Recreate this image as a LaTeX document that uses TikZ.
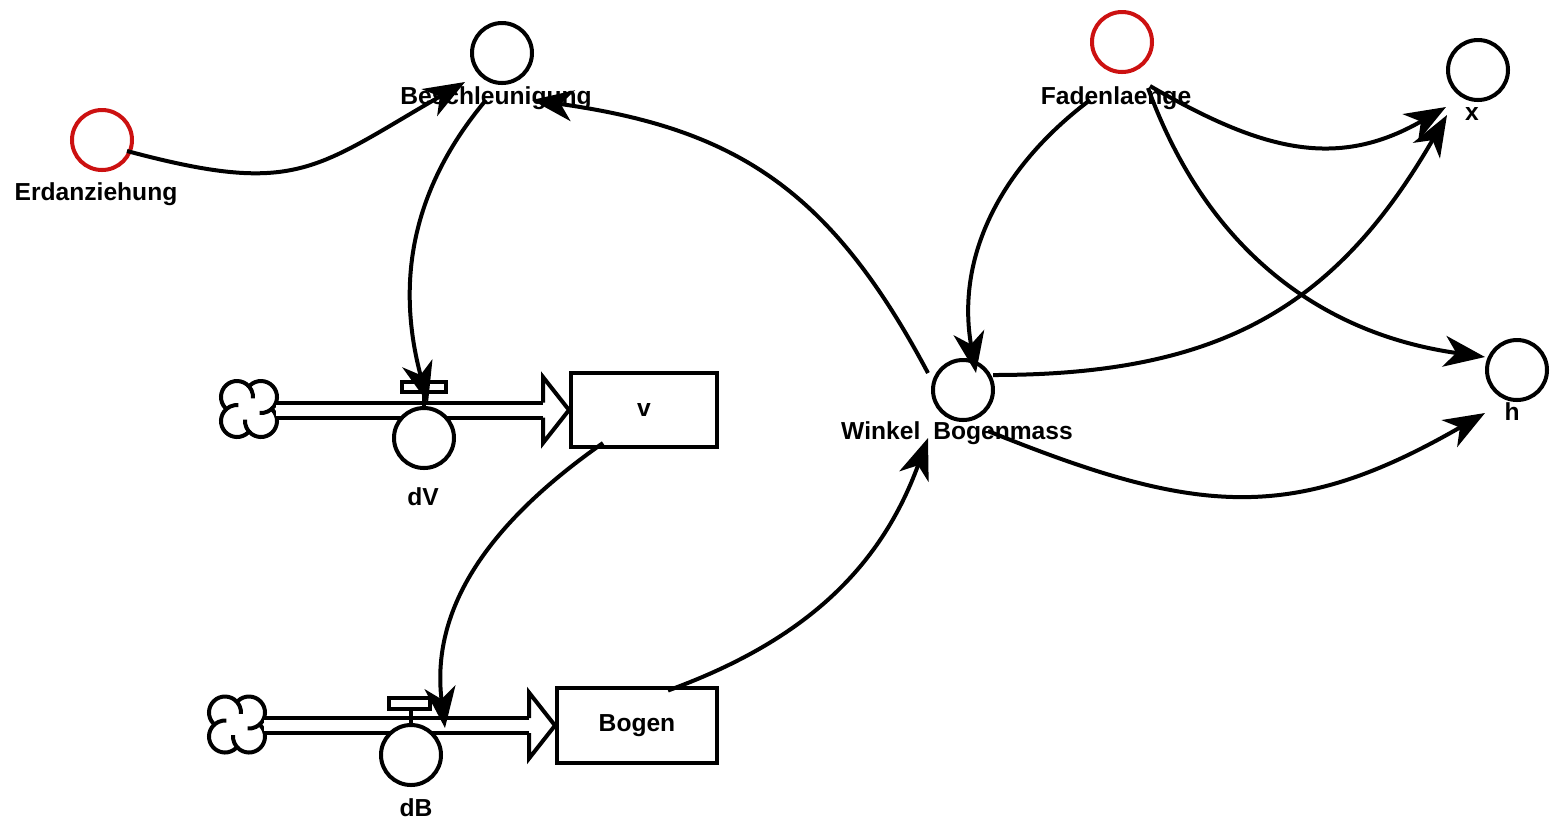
\documentclass[tikz,border=0pt]{standalone}
\usepackage{fontspec}
\setmainfont{Liberation Sans}
\usetikzlibrary{arrows.meta,calc}
\definecolor{cred}{RGB}{204,17,17}
\tikzset{
  srccloud/.pic={
    \begin{scope}[x=0.1mm,y=0.1mm,line width=0.4mm]
      \foreach \a in {45,135,225,315}{
        \draw (\a:16.97) ++(\a+100:16) arc[start angle=\a+100,end angle=\a-140,radius=16];
      }
    \end{scope}
  }
}
\begin{document}
\begin{tikzpicture}[x=0.1mm,y=-0.1mm,
  aux/.style={circle,draw,line width=0.4mm,minimum size=6mm,inner sep=0pt,fill=white},
  constc/.style={aux,draw=cred},
  stock/.style={draw,line width=0.4mm,rectangle,inner sep=0pt,font=\bfseries\fontsize{7}{8}\selectfont},
  lbl/.style={font=\bfseries\fontsize{7}{8}\selectfont,anchor=base,inner sep=0pt},
  link/.style={line width=0.4mm,-{Stealth[length=4.1mm,width=3.1mm,inset=1.2mm]}},
  pipe/.style={double distance=1.1mm,line width=0.4mm},
  flowtip/.style={line width=0.4mm,line join=miter},
  valvebar/.style={line width=0.4mm,fill=white}
]
\useasboundingbox (0,0) rectangle (1551,821);

% stocks
\node[stock,minimum width=14.6mm,minimum height=7.4mm] (v) at (644,410) {v};
\node[stock,minimum width=16mm,minimum height=7.5mm] (bogen) at (637,725.5) {Bogen};

% clouds
\coordinate (c1) at (249,409);
\coordinate (c2) at (237,724.5);
\pic at (c1) {srccloud};
\pic at (c2) {srccloud};

% pipes
\draw[pipe] ($(c1)+(27,1)$) -- ($(v.west)+(-26,0)$);
\draw[flowtip] ($(v.west)+(-26,-7.5)$) -- ++(0,-25.5) -- (v.west) -- ++(-26,33) -- ++(0,-25.5);
\draw[pipe] ($(c2)+(27,1)$) -- ($(bogen.west)+(-26,0)$);
\draw[flowtip] ($(bogen.west)+(-26,-7.5)$) -- ++(0,-25.5) -- (bogen.west) -- ++(-26,33) -- ++(0,-25.5);

% valves
\node[aux] (dv) at (424,438) {};
\draw[valvebar] ($(dv)+(-22,-56)$) rectangle ($(dv)+(22,-46)$);
\draw[line width=0.4mm] ($(dv)+(0,-46)$) -- (dv.north);
\node[aux] (db) at (411,755) {};
\draw[valvebar] ($(db)+(-22,-57)$) rectangle ($(db)+(19,-46)$);
\draw[line width=0.4mm] ($(db)+(0,-46)$) -- (db.north);

% variables
\node[constc] (erd) at (102,140) {};
\node[aux] (besch) at (502,53) {};
\node[constc] (faden) at (1122,42) {};
\node[aux] (x) at (1478,70) {};
\node[aux] (h) at (1517,370) {};
\node[aux] (win) at (963,390) {};

% labels
\node[lbl] (erdL) at (96,200) {Erdanziehung};
\node[lbl] (beschL) at (496,104) {Beschleunigung};
\node[lbl] (fadenL) at (1116,104) {Fadenlaenge};
\node[lbl] (xL) at (1472,120) {x};
\node[lbl] (hL) at (1512,420) {h};
\node[lbl] (winL) at (957,439) {Winkel\hspace{1.3mm}Bogenmass};
\node[lbl] (dvL) at (423,505) {dV};
\node[lbl] (dbL) at (416,816) {dB};

% connectors
\draw[link] ($(erd)+(25,11)$) to[out=-15,in=210,looseness=1.3] ($(besch)+(-37,29)$);
\draw[link] ($(besch)+(-16,47)$) to[out=230,in=105] ($(dv)+(4,-35)$);
\draw[link] ($(win)+(-35,-17)$) to[out=118,in=-8,looseness=1.1] ($(besch)+(30,47)$);
\draw[link] ($(v)+(-41,33)$) to[out=215,in=97] ($(db)+(34,-27)$);
\draw[link] ($(bogen)+(31,-35)$) to[out=20,in=250] ($(win)+(-35,48)$);
\draw[link] ($(faden)+(-32,58)$) to[out=217,in=100] ($(win)+(13,-17)$);
\draw[link] ($(faden)+(28,44)$) to[out=-30,in=210,looseness=1.1] ($(x)+(-32,37)$);
\draw[link] ($(faden)+(26,46)$) to[out=-70,in=172] ($(h)+(-32,-13)$);
\draw[link] ($(win)+(30,-15)$) to[out=0,in=240,looseness=1.1] ($(x)+(-31,45)$);
\draw[link] ($(win)+(25,41)$) to[out=-22,in=210,looseness=1.15] ($(h)+(-32,43)$);
\end{tikzpicture}
\end{document}
